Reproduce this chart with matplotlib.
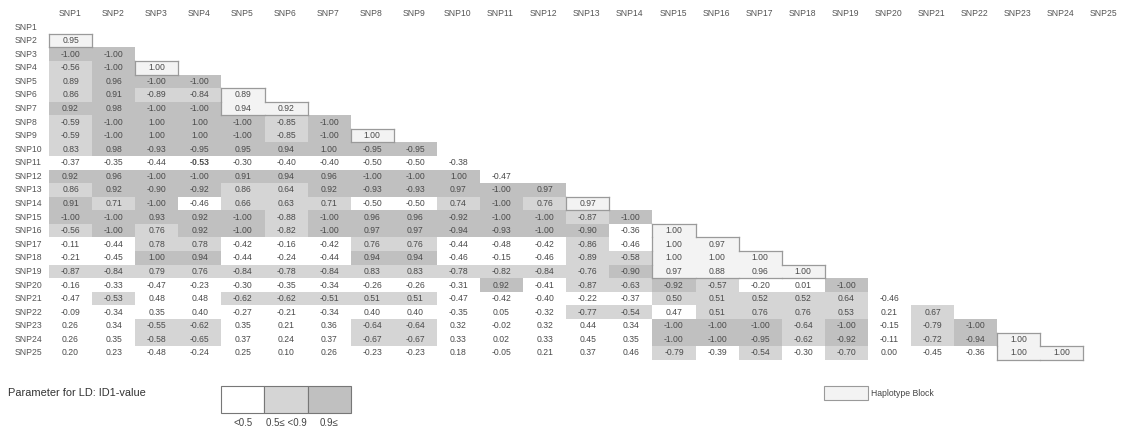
import matplotlib.pyplot as plt
from matplotlib.patches import Rectangle

plt.rcParams['font.family'] = ['Liberation Sans', 'DejaVu Sans']

snps = ['SNP%d' % i for i in range(1, 26)]

# lower triangle of the LD table, row i holds |D'| signed values against SNP1..SNP(i-1)
d_prime = [
    [],
    [0.95],
    [-1.00, -1.00],
    [-0.56, -1.00, 1.00],
    [0.89, 0.96, -1.00, -1.00],
    [0.86, 0.91, -0.89, -0.84, 0.89],
    [0.92, 0.98, -1.00, -1.00, 0.94, 0.92],
    [-0.59, -1.00, 1.00, 1.00, -1.00, -0.85, -1.00],
    [-0.59, -1.00, 1.00, 1.00, -1.00, -0.85, -1.00, 1.00],
    [0.83, 0.98, -0.93, -0.95, 0.95, 0.94, 1.00, -0.95, -0.95],
    [-0.37, -0.35, -0.44, -0.53, -0.30, -0.40, -0.40, -0.50, -0.50, -0.38],
    [0.92, 0.96, -1.00, -1.00, 0.91, 0.94, 0.96, -1.00, -1.00, 1.00, -0.47],
    [0.86, 0.92, -0.90, -0.92, 0.86, 0.64, 0.92, -0.93, -0.93, 0.97, -1.00, 0.97],
    [0.91, 0.71, -1.00, -0.46, 0.66, 0.63, 0.71, -0.50, -0.50, 0.74, -1.00, 0.76, 0.97],
    [-1.00, -1.00, 0.93, 0.92, -1.00, -0.88, -1.00, 0.96, 0.96, -0.92, -1.00, -1.00, -0.87, -1.00],
    [-0.56, -1.00, 0.76, 0.92, -1.00, -0.82, -1.00, 0.97, 0.97, -0.94, -0.93, -1.00, -0.90, -0.36,
     1.00],
    [-0.11, -0.44, 0.78, 0.78, -0.42, -0.16, -0.42, 0.76, 0.76, -0.44, -0.48, -0.42, -0.86, -0.46,
     1.00, 0.97],
    [-0.21, -0.45, 1.00, 0.94, -0.44, -0.24, -0.44, 0.94, 0.94, -0.46, -0.15, -0.46, -0.89, -0.58,
     1.00, 1.00, 1.00],
    [-0.87, -0.84, 0.79, 0.76, -0.84, -0.78, -0.84, 0.83, 0.83, -0.78, -0.82, -0.84, -0.76, -0.90,
     0.97, 0.88, 0.96, 1.00],
    [-0.16, -0.33, -0.47, -0.23, -0.30, -0.35, -0.34, -0.26, -0.26, -0.31, 0.92, -0.41, -0.87, -0.63,
     -0.92, -0.57, -0.20, 0.01, -1.00],
    [-0.47, -0.53, 0.48, 0.48, -0.62, -0.62, -0.51, 0.51, 0.51, -0.47, -0.42, -0.40, -0.22, -0.37,
     0.50, 0.51, 0.52, 0.52, 0.64, -0.46],
    [-0.09, -0.34, 0.35, 0.40, -0.27, -0.21, -0.34, 0.40, 0.40, -0.35, 0.05, -0.32, -0.77, -0.54,
     0.47, 0.51, 0.76, 0.76, 0.53, 0.21, 0.67],
    [0.26, 0.34, -0.55, -0.62, 0.35, 0.21, 0.36, -0.64, -0.64, 0.32, -0.02, 0.32, 0.44, 0.34,
     -1.00, -1.00, -1.00, -0.64, -1.00, -0.15, -0.79, -1.00],
    [0.26, 0.35, -0.58, -0.65, 0.37, 0.24, 0.37, -0.67, -0.67, 0.33, 0.02, 0.33, 0.45, 0.35,
     -1.00, -1.00, -0.95, -0.62, -0.92, -0.11, -0.72, -0.94, 1.00],
    [0.20, 0.23, -0.48, -0.24, 0.25, 0.10, 0.26, -0.23, -0.23, 0.18, -0.05, 0.21, 0.37, 0.46,
     -0.79, -0.39, -0.54, -0.30, -0.70, 0.00, -0.45, -0.36, 1.00, 1.00],
]

haplotype_blocks = [[1, 2], [3, 4], [5, 6, 7], [8, 9], [13, 14], [15, 16, 17, 18, 19], [23, 24, 25]]
# cells printed as 0.50/0.53 but left unshaded in the table (row, col)
unshaded_cells = [(11, 4), (11, 8), (11, 9), (14, 8), (14, 9)]
bold_cells = [(11, 4)]

legend_labels = ['<0.5', '0.5\u2264 <0.9', '0.9\u2264']
shade_colors = ['white', '#d5d5d5', '#c0c0c0']
block_fill = '#f3f3f3'
block_edge = '#9a9a9a'
txt_color = '#4a4a4a'

X0, CW = 49, 43.1
Y0, RH = 27, 13.58
FS = 6.2


def cell_left(j):
    return X0 + CW * (j - 1)


def cell_top(i):
    return Y0 + RH * (i - 1) - RH / 2


fig = plt.figure(figsize=(11.21, 4.33), dpi=100)
ax = fig.add_axes([0, 0, 1, 1])
ax.set_xlim(0, 1121)
ax.set_ylim(433, 0)
ax.axis('off')

in_block = {}
for b, block in enumerate(haplotype_blocks):
    for i in block:
        for j in block:
            if j < i:
                in_block[(i, j)] = b

# headers
for k, name in enumerate(snps, start=1):
    ax.text(cell_left(k) + CW / 2 - 1, 14, name, ha='center', va='center', fontsize=FS, color='#555555')
    ax.text(15, Y0 + RH * (k - 1), name, ha='left', va='center', fontsize=FS, color='#555555')

# cells
for i, row in enumerate(d_prime, start=1):
    for j, v in enumerate(row, start=1):
        a = abs(v)
        if (i, j) in in_block:
            fc = block_fill
        elif a < 0.5 or (i, j) in unshaded_cells:
            fc = shade_colors[0]
        elif a < 0.9:
            fc = shade_colors[1]
        else:
            fc = shade_colors[2]
        if fc != 'white':
            ax.add_patch(Rectangle((cell_left(j), cell_top(i)), CW, RH, facecolor=fc, edgecolor='none'))
        ax.text(cell_left(j) + CW / 2, Y0 + RH * (i - 1), '%.2f' % v, ha='center', va='center',
                fontsize=FS, color=txt_color,
                fontweight='bold' if (i, j) in bold_cells else 'normal')

# block outlines: draw edges not shared with a cell of the same block
for (i, j), b in in_block.items():
    x, y = cell_left(j), cell_top(i)
    edges = [((i - 1, j), [x, x + CW], [y, y]),
             ((i + 1, j), [x, x + CW], [y + RH, y + RH]),
             ((i, j - 1), [x, x], [y, y + RH]),
             ((i, j + 1), [x + CW, x + CW], [y, y + RH])]
    for nb, xs, ys in edges:
        if in_block.get(nb) != b:
            ax.plot(xs, ys, color=block_edge, linewidth=0.9, solid_capstyle='projecting')

# LD legend
ax.text(8, 393, 'Parameter for LD: ID1-value', ha='left', va='center', fontsize=7.9, color='#333333')
for k, (lab, c) in enumerate(zip(legend_labels, shade_colors)):
    ax.add_patch(Rectangle((221 + 43.3 * k, 386), 43.3, 27, facecolor=c, edgecolor='#777777', linewidth=0.8))
    ax.text(221 + 43.3 * k + 21.6, 423, lab, ha='center', va='center', fontsize=7, color='#444444')

# haplotype block legend
ax.add_patch(Rectangle((824, 386), 44, 14, facecolor=block_fill, edgecolor=block_edge, linewidth=0.8))
ax.text(871, 393, 'Haplotype Block', ha='left', va='center', fontsize=FS, color='#444444')

fig.savefig('out.png', dpi=100)
